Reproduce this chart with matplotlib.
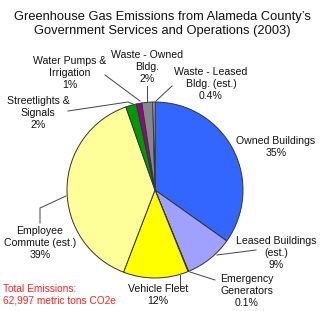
import matplotlib
matplotlib.use("Agg")
import matplotlib.pyplot as plt

categories = ["Owned Buildings", "Leased Buildings (est.)", "Emergency Generators",
              "Vehicle Fleet", "Employee Commute (est.)", "Streetlights & Signals",
              "Water Pumps & Irrigation", "Waste - Owned Bldg.", "Waste - Leased Bldg. (est.)"]
values = [35, 9, 0.1, 12, 39, 2, 1, 2, 0.4]
pct_labels = ["35%", "9%", "0.1%", "12%", "39%", "2%", "1%", "2%", "0.4%"]
colors = ["#3366FF", "#A0A0FF", "#808080", "#FFFF00", "#FFFF99",
          "#009900", "#990099", "#888888", "#C8C8C8"]

plt.rcParams['font.family'] = ['Liberation Sans', 'DejaVu Sans']

W, H = 325, 311
fig = plt.figure(figsize=(W / 100, H / 100), dpi=100)

cx, cy, r = 155, 190, 88
ax = fig.add_axes([(cx - r) / W, (H - cy - r) / H, 2 * r / W, 2 * r / H])
ax.pie(values, colors=colors, startangle=90, counterclock=False,
       wedgeprops=dict(edgecolor="#333333", linewidth=0.7))
ax.set_xlim(-1, 1)
ax.set_ylim(-1, 1)
ax.set_aspect('auto')
ax.axis('off')

ov = fig.add_axes([0, 0, 1, 1], zorder=5)
ov.set_xlim(0, W)
ov.set_ylim(H, 0)
ov.axis('off')
ov.patch.set_alpha(0)

fs = 7.6
ov.text(162, 24, "Greenhouse Gas Emissions from Alameda County\u2019s\nGovernment Services and Operations (2003)",
        ha='center', va='center', fontsize=9.3, linespacing=1.25, color='#111111')

label_text = [
    "Owned Buildings\n" + pct_labels[0],
    "Leased Buildings\n(est.)\n" + pct_labels[1],
    "Emergency\nGenerators\n" + pct_labels[2],
    "Vehicle Fleet\n" + pct_labels[3],
    "Employee\nCommute (est.)\n" + pct_labels[4],
    "Streetlights &\nSignals\n" + pct_labels[5],
    "Water Pumps &\nIrrigation\n" + pct_labels[6],
    "Waste - Owned\nBldg.\n" + pct_labels[7],
    "Waste - Leased\nBldg. (est.)\n" + pct_labels[8],
]
label_pos = [(276, 147), (276, 253), (247, 291), (158, 295), (40, 243),
             (38, 113), (70, 73), (147, 67), (211, 84)]
for t, (x, y) in zip(label_text, label_pos):
    ov.text(x, y, t, ha='center', va='center', fontsize=fs, linespacing=1.2, color='#111111')

leaders = [
    [(217, 255), (256, 250)],
    [(190, 272), (215, 280)],
    [(180, 275), (180, 287)],
    [(66, 196), (40, 208), (40, 223)],
    [(133, 104), (128, 102), (68, 111)],
    [(140, 101), (105, 75)],
    [(147, 101), (147, 86)],
    [(156, 101), (172, 86)],
]
for pts in leaders:
    xs, ys = zip(*pts)
    ov.plot(xs, ys, color='#444444', linewidth=0.7)

ov.text(3, 294.5, "Total Emissions:\n62,997 metric tons CO2e", ha='left', va='center',
        fontsize=7.3, linespacing=1.25, color='#FF2222')

fig.savefig("out.png", dpi=100)
